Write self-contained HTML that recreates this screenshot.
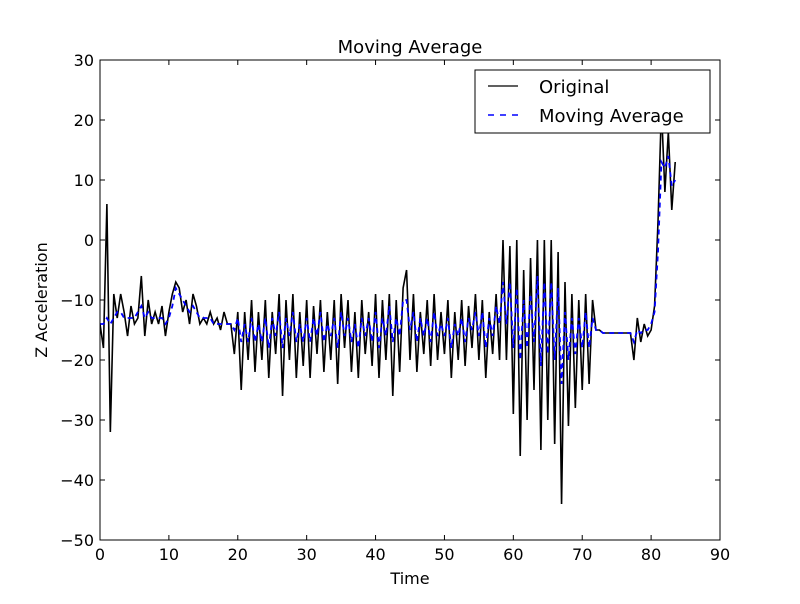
<!DOCTYPE html>
<html><head><meta charset="utf-8"><style>
body{margin:0;background:#fff;font-family:"DejaVu Sans","Liberation Sans",sans-serif;}
svg text{font-family:"DejaVu Sans","Liberation Sans",sans-serif;}
</style></head><body>
<svg id="chart" width="800" height="600" xmlns="http://www.w3.org/2000/svg">
<rect width="800" height="600" fill="#fff"/>
<text x="410" y="53" font-size="18" text-anchor="middle">Moving Average</text>
<text x="410" y="584" font-size="16" text-anchor="middle">Time</text>
<text x="47" y="300" font-size="16" text-anchor="middle" transform="rotate(-90 47 300)">Z Acceleration</text>
<g id="plot"></g>
<g id="axes"></g>
<g>
<rect x="475" y="70" width="235" height="63" fill="#fff" stroke="#000" stroke-width="1"/>
<line x1="488" y1="86" x2="518" y2="86" stroke="#000" stroke-width="1.2"/>
<text x="539" y="93" font-size="18">Original</text>
<line x1="488" y1="115" x2="518" y2="115" stroke="#00f" stroke-width="1.5" stroke-dasharray="6,6"/>
<text x="539" y="122" font-size="18">Moving Average</text>
</g>
</svg>
<script>
const timeStep = 0.5;
const xTicks = [0,10,20,30,40,50,60,70,80,90];
const yTicks = [30,20,10,0,-10,-20,-30,-40,-50];
const original = [
-14,-18,6,-32,-9,-13,-9,-12,-16,-11,
-14,-13,-6,-16,-10,-14,-12,-14,-11,-16,
-12,-9,-7,-8,-12,-10,-14,-9,-11,-14,
-13,-14,-12,-14,-13,-15,-12,-14,-14,-19,
-12,-25,-12,-20,-10,-22,-12,-20,-10,-23,
-12,-19,-9,-26,-10,-20,-9,-23,-12,-21,
-10,-23,-11,-19,-10,-22,-12,-20,-10,-24,
-9,-18,-10,-22,-12,-23,-10,-19,-12,-21,
-9,-23,-10,-20,-9,-26,-10,-22,-8,-5,
-20,-9,-22,-12,-19,-10,-21,-9,-20,-12,
-19,-10,-23,-12,-20,-10,-21,-11,-18,-9,
-20,-10,-23,-12,-19,-9,-20,0,-20,-1,
-29,0,-36,-5,-30,-3,-25,0,-35,0,
-30,0,-34,-2,-44,-7,-31,-9,-28,-10,
-25,-9,-24,-10,-15,-15,-15.5,-15.5,-15.5,-15.5,
-15.5,-15.5,-15.5,-15.5,-15.5,-20,-13,-17,-14,-16,
-15,-11,3,22,8,18,5,13];
const movingAvg = [
-14,-14,-13,-14,-13,-12,-12,-13,-13,-13,
-13,-12,-11,-13,-12,-13,-13,-13,-13,-14,
-13,-11,-8,-9,-10,-11,-12,-11,-12,-13,
-13,-13,-13,-14,-14,-14,-14,-14,-14,-15,
-13,-17,-14,-17,-13,-17,-14,-17,-13,-18,
-13,-16,-12,-18,-13,-16,-12,-17,-14,-17,
-13,-17,-13,-16,-12,-17,-14,-16,-13,-18,
-12,-16,-13,-17,-14,-18,-13,-16,-13,-17,
-12,-18,-13,-16,-11,-17,-13,-16,-10,-10,
-15,-12,-17,-13,-16,-13,-17,-12,-16,-14,
-16,-13,-18,-14,-16,-13,-17,-13,-15,-12,
-16,-12,-18,-13,-16,-11,-14,-7,-14,-7,
-18,-8,-20,-10,-18,-9,-17,-6,-21,-7,
-19,-7,-20,-8,-24,-12,-20,-13,-19,-13,
-18,-12,-18,-13,-15,-15,-15.5,-15.5,-15.5,-15.5,
-15.5,-15.5,-15.5,-15.5,-15.5,-17,-15,-15.5,-15,-15,
-14,-12,-2,13,12,14,9,10];

const L=100,R=720,T=60,B=540;
const xs=v=>L+(v-0)/(90-0)*(R-L);
const ys=v=>B-(v+50)/(80)*(B-T);
const NS="http://www.w3.org/2000/svg";
const plot=document.getElementById('plot');
const axes=document.getElementById('axes');
function mk(tag,attrs,parent){const e=document.createElementNS(NS,tag);for(const k in attrs)e.setAttribute(k,attrs[k]);parent.appendChild(e);return e;}
const cp=mk('clipPath',{id:'clip'},plot);mk('rect',{x:L,y:T,width:R-L,height:B-T},cp);
function pts(arr){return arr.map((v,i)=>xs(i*timeStep).toFixed(2)+','+ys(v).toFixed(2)).join(' ');}
const l1=mk('polyline',{points:pts(original),fill:'none',stroke:'#000','stroke-width':1.6,'clip-path':'url(#clip)'},plot);


const l2=mk('polyline',{points:pts(movingAvg),fill:'none',stroke:'#00f','stroke-width':1.8,'stroke-dasharray':'5,4','clip-path':'url(#clip)'},plot);


const frame=mk('rect',{x:L,y:T,width:R-L,height:B-T,fill:'none',stroke:'#000','stroke-width':1},axes);


xTicks.forEach(t=>{const x=xs(t);
mk('line',{x1:x,y1:B,x2:x,y2:B-5,stroke:'#000'},axes);
mk('line',{x1:x,y1:T,x2:x,y2:T+5,stroke:'#000'},axes);
const tx=mk('text',{x:x,y:B+20,'font-size':16,'text-anchor':'middle'},axes);tx.textContent=t;


});
yTicks.forEach(t=>{const y=ys(t);
mk('line',{x1:L,y1:y,x2:L+5,y2:y,stroke:'#000'},axes);
mk('line',{x1:R,y1:y,x2:R-5,y2:y,stroke:'#000'},axes);
const tx=mk('text',{x:L-6,y:y+6,'font-size':16,'text-anchor':'end'},axes);tx.textContent=(t<0?'\u2212'+(-t):t);


});
</script>
</body></html>
